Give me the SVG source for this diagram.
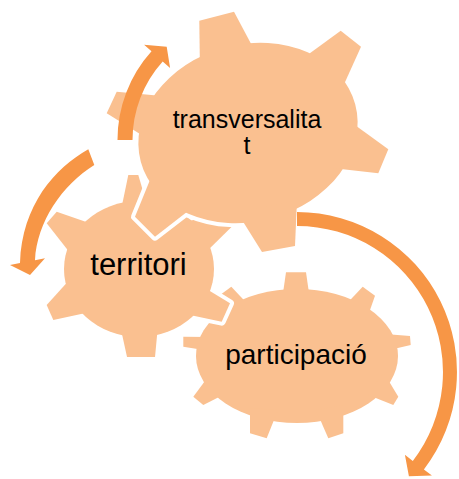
<svg xmlns="http://www.w3.org/2000/svg" xmlns:xlink="http://www.w3.org/1999/xlink" width="459" height="479" viewBox="0 0 459 479">
<style>
.halo{fill:#fff;stroke:#fff;stroke-width:8;stroke-linejoin:round}
.gear{fill:#FAC090}
.lbl{font-family:"Liberation Sans",Arial,sans-serif;fill:#000;text-anchor:middle}
.arrow{fill:#F79646}
</style>
<defs>
<g id="shape-participacio">
<ellipse cx="297" cy="356" rx="101" ry="67"/>
<polygon points="282,300 286,272.3 306,272.3 310,300"/>
<polygon points="345,305.5 362.7,286.7 375,295.7 366.5,320"/>
<polygon points="385,334 410,336 410.7,345 385,351"/>
<polygon points="384,373 398.3,396.7 393.3,405 367,394.4"/>
<polygon points="343.3,405 343.3,433.3 328.3,438.3 316,410"/>
<polygon points="278,410 266.7,438.3 250,433.3 250,408"/>
<polygon points="209,375.6 193.3,396.7 203.3,405 226,393.6"/>
<polygon points="210,337 183.3,336.7 183.3,346.7 210,351"/>
<polygon points="249,305.5 231.3,286.7 219,295.7 227.5,320"/>
</g>
<g id="shape-territori">
<ellipse cx="139" cy="269" rx="75" ry="68"/>
<polygon points="120,215 128.3,175 138.3,175 150,215"/>
<polygon points="95,225 56.7,211.7 46.7,223.3 72,255.6"/>
<polygon points="72,277 46.7,305 53.3,320 95,311"/>
<polygon points="120,325 127,357 155,357 158,325"/>
<polygon points="200,285 230,303.3 221.7,321.7 190,315"/>
<polygon points="200,258 231.7,226.7 218,214 185,222"/>
</g>
<g id="shape-transversalitat">
<ellipse cx="248" cy="133" rx="111" ry="88.5" transform="rotate(-15 248 133)"/>
<polygon points="200,75 199.3,20.7 234,11.7 257,55 250,75"/>
<polygon points="302,59 340.7,30.7 361,46.7 341,91"/>
<polygon points="348,120 388.3,149.3 378.3,173.3 332,168"/>
<polygon points="237,212 262,252 295,246 297,200"/>
<polygon points="152,175 135,216.7 155,236.7 192,208"/>
<polygon points="116.7,91.7 162,96 162,132 140,134 106.7,113.3"/>
</g>
</defs>
<g id="node-participacio">
<use xlink:href="#shape-participacio" href="#shape-participacio" class="halo"/>
<use xlink:href="#shape-participacio" href="#shape-participacio" class="gear"/>
<text class="lbl" x="296" y="364" font-size="28">participació</text>
</g>
<g id="node-territori">
<use xlink:href="#shape-territori" href="#shape-territori" class="halo"/>
<use xlink:href="#shape-territori" href="#shape-territori" class="gear"/>
<text class="lbl" x="138.5" y="275" font-size="31">territori</text>
</g>
<g id="node-transversalitat">
<use xlink:href="#shape-transversalitat" href="#shape-transversalitat" class="halo"/>
<use xlink:href="#shape-transversalitat" href="#shape-transversalitat" class="gear"/>
<text class="lbl" font-size="25"><tspan x="247" y="127.5">transversalita</tspan><tspan x="247" y="154">t</tspan></text>
</g>
<g id="connectors">
<path class="arrow" d="M117.5,140 A132.5,132.5 0 0 1 151.5,51.3 L144.1,44.7 L166.7,46.8 L170.1,68.1 L162.7,61.4 A117.5,117.5 0 0 0 132.5,140 Z"/>
<path class="arrow" d="M88.3,149.3 C55,168 22,205 20,263 L10,265 L30,275 L45,258.3 L35,260.2 C37,222 62,185 94.3,165 Z"/>
<path class="arrow" d="M297,212 A160,160 0 0 1 423.9,469.4 L431.9,475.5 L408.9,476.3 L404.9,454.8 L412.8,460.9 A146,146 0 0 0 297,226 Z"/>
</g>
</svg>
